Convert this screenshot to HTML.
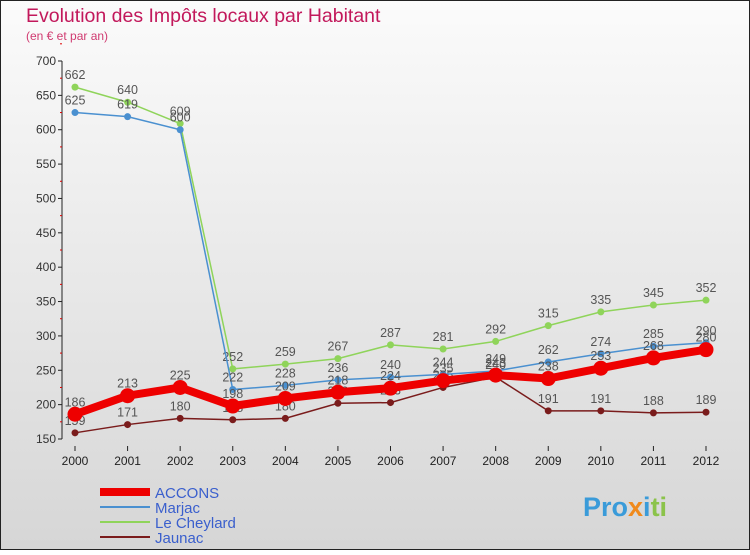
<!DOCTYPE html>
<html><head><meta charset="utf-8"><style>
body{margin:0}
#c{width:750px;height:550px;position:relative;font-family:"Liberation Sans","DejaVu Sans",sans-serif;}
</style></head><body>
<div id="c">
<svg id="s" width="750" height="550" xmlns="http://www.w3.org/2000/svg">
<defs><linearGradient id="bg" x1="0" y1="0" x2="0" y2="1"><stop offset="0" stop-color="#fbfbfb"/><stop offset="1" stop-color="#d6d6d6"/></linearGradient></defs>
<rect x="0.5" y="0.5" width="749" height="549" fill="url(#bg)" stroke="#222"/>
<text x="26" y="22" font-size="19.5" fill="#c2185b">Evolution des Impôts locaux par Habitant</text>
<text x="26" y="40" font-size="12" fill="#d03a70">(en € et par an)</text>
<g id="axes"></g><g id="series"></g><g id="legend"></g>
<text x="583" y="516" font-size="27" font-weight="bold" fill="#3a9bd9">Pro<tspan fill="#f08a1c">x</tspan><tspan fill="#3a9bd9">i</tspan><tspan fill="#8bc34a">ti</tspan></text>
</svg>
</div>
<script>
const years=[2000,2001,2002,2003,2004,2005,2006,2007,2008,2009,2010,2011,2012];
const yTicks=[150,200,250,300,350,400,450,500,550,600,650,700];
const accons=[186,213,225,198,209,218,224,235,243,238,253,268,280];
const marjac=[625,619,600,222,228,236,240,244,249,262,274,285,290];
const cheylard=[662,640,609,252,259,267,287,281,292,315,335,345,352];
const jaunac=[159,171,180,178,180,202,203,225,240,191,191,188,189];
const NS="http://www.w3.org/2000/svg";
function X(i){return 75+i*(706-75)/12;}
function Y(v){return 61+(700-v)*378/550;}
function mk(t,a,p){const e=document.createElementNS(NS,t);for(const k in a)e.setAttribute(k,a[k]);p.appendChild(e);return e;}
const ax=document.getElementById('axes');
let l=mk('line',{x1:62,y1:61,x2:62,y2:439,stroke:'#222'},ax);


const xg=mk('g',{},ax);


yTicks.forEach(v=>{const y=Y(v);
mk('line',{x1:58,y1:y,x2:62,y2:y,stroke:'#222'},ax);
const t=mk('text',{x:56,y:y+4,'text-anchor':'end','font-size':12,fill:'#333'},ax);t.textContent=v;


mk('line',{x1:60,y1:Y(v+25),x2:62,y2:Y(v+25),stroke:'#d00'},ax);});
years.forEach((yr,i)=>{const x=X(i);
mk('line',{x1:x,y1:446,x2:x,y2:451,stroke:'#222'},xg);
const t=mk('text',{x:x,y:465,'text-anchor':'middle','font-size':12,fill:'#222'},xg);t.textContent=yr;

});
const sg=document.getElementById('series');
function series(name,vals,color,w,r){const g=mk('g',{},sg);


const pts=vals.map((v,i)=>X(i)+','+Y(v)).join(' ');
mk('polyline',{points:pts,fill:'none',stroke:color,'stroke-width':w},g);
vals.forEach((v,i)=>{const c=mk('circle',{cx:X(i),cy:Y(v),r:r,fill:color},g);


const t=mk('text',{x:X(i),y:Y(v)-8,'text-anchor':'middle','font-size':12.5,fill:'#555'},g);t.textContent=v;

});}
series('jaunac',jaunac,'#7a1c1c',1.5,3.5);
series('le-cheylard',cheylard,'#8fd45a',1.5,3.5);
series('marjac',marjac,'#4a90d0',1.5,3.5);
series('accons',accons,'#ee0000',8,7.5);
const lg=document.getElementById('legend');
const items=[['ACCONS','#ee0000',8],['Marjac','#4a90d0',2],['Le Cheylard','#8fd45a',2],['Jaunac','#7a1c1c',2]];
items.forEach((it,i)=>{const y=492+i*15;const g=mk('g',{},lg);


mk('line',{x1:100,y1:y,x2:150,y2:y,stroke:it[1],'stroke-width':it[2]},g);
const t=mk('text',{x:155,y:y+6,'font-size':15,fill:'#3a5fcd'},g);t.textContent=it[0];});
</script>
</body></html>
